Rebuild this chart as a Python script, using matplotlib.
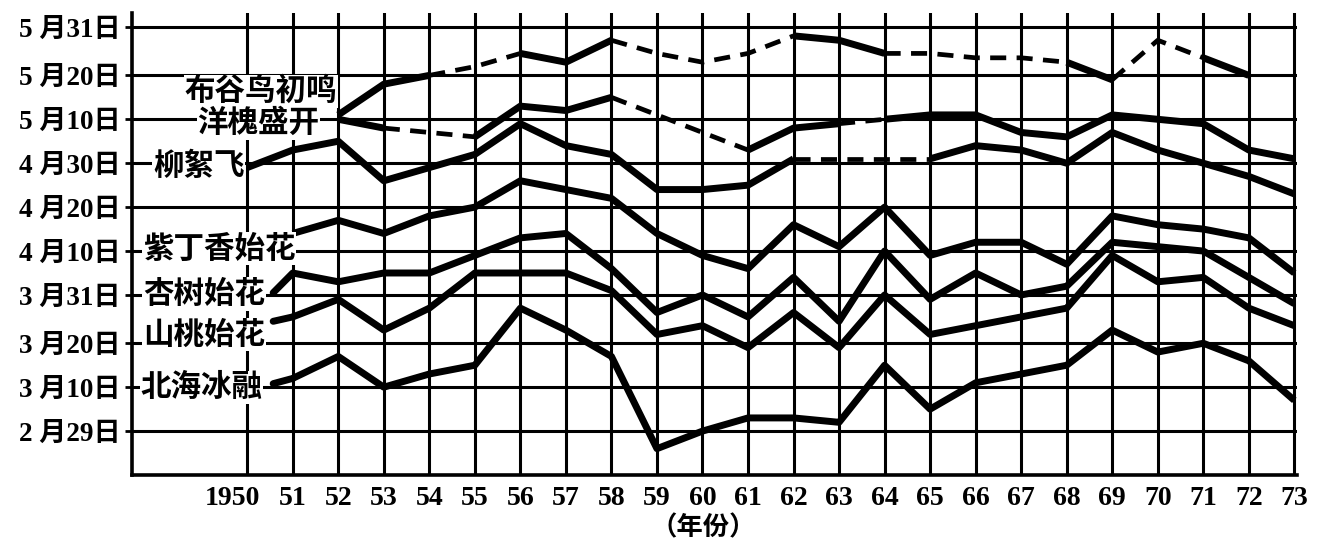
import matplotlib
matplotlib.use("Agg")
import matplotlib.pyplot as plt
from matplotlib.transforms import ScaledTranslation
import numpy as np

# ---------------- data (day number counted from 1 March; 2月29日 = 0) ----------------
cuckoo_years = list(range(1952, 1973))
cuckoo = [72, 79, 81, 83, 86, 84, 89, 86, 84, 86, 90, 89, 86, 86, 85, 85, 84, 80, 89, 85, 81]
cuckoo_dashed = [1954, 1955, 1958, 1959, 1960, 1961, 1964, 1965, 1966, 1967, 1969, 1970]

locust_years = list(range(1952, 1974))
locust = [71, 69, 68, 67, 74, 73, 76, 72, 68, 64, 69, 70, 71, 72, 72, 68, 67, 72, 71, 70, 64, 62]
locust_dashed = [1953, 1954, 1958, 1959, 1960, 1963]

willow_years = list(range(1950, 1974))
willow = [60, 64, 66, 57, 60, 63, 70, 65, 63, 55, 55, 56, 62, 62, 62, 62, 65, 64, 61, 68, 64, 61, 58, 54]
willow_dashed = [1962, 1963, 1964]

lilac_years = list(range(1951, 1974))
lilac = [45, 48, 45, 49, 51, 57, 55, 53, 45, 40, 37, 47, 42, 51, 40, 43, 43, 38, 49, 47, 46, 44, 36]

apricot_years = list(range(1951, 1974))
apricot = [36, 34, 36, 36, 40, 44, 45, 37, 27, 31, 26, 35, 25, 41, 30, 36, 31, 33, 43, 42, 41, 35, 29]

peach_years = list(range(1951, 1974))
peach = [26, 30, 23, 28, 36, 36, 36, 32, 22, 24, 19, 27, 19, 31, 22, 24, 26, 28, 40, 34, 35, 28, 24]

ice_years = list(range(1951, 1974))
ice = [12, 17, 10, 13, 15, 28, 23, 17, -4, 0, 3, 3, 2, 15, 5, 11, 13, 15, 23, 18, 20, 16, 7]

series_names = ["布谷鸟初鸣", "洋槐盛开", "柳絮飞", "紫丁香始花", "杏树始花", "山桃始花", "北海冰融"]

ytick_days = [0, 10, 20, 31, 41, 51, 61, 71, 81, 92]
ytick_labels = ["2 月29日", "3 月10日", "3 月20日", "3 月31日", "4 月10日",
                "4 月20日", "4 月30日", "5 月10日", "5 月20日", "5 月31日"]
xtick_years = list(range(1950, 1974))
xtick_labels = ["1950"] + [str(y % 100) for y in range(1951, 1974)]
xlabel_text = "（年份）"

# ---------------- figure ----------------
CJK = ["Noto Sans CJK SC", "DejaVu Sans"]
MIX = ["Liberation Serif", "Noto Sans CJK SC", "DejaVu Sans"]

fig = plt.figure(figsize=(13.23, 5.47), dpi=100)
ax = fig.add_axes([0.0998, 0.1316, 0.8806, 0.8446])
ax.set_xlim(1947.47, 1973.06)
ax.set_ylim(-10, 95.2)

for s in ["top", "right"]:
    ax.spines[s].set_visible(False)
for s in ["left", "bottom"]:
    ax.spines[s].set_linewidth(2.6)

ax.set_xticks(xtick_years)
ax.set_xticklabels(xtick_labels, fontfamily=MIX, fontsize=20, fontweight="bold")
ax.set_yticks(ytick_days)
ax.set_yticklabels(ytick_labels, fontfamily=MIX, fontsize=19.5, fontweight="bold")
ax.tick_params(axis="x", length=0, pad=8)
ax.tick_params(axis="y", length=5, width=2, pad=3, direction="out")
ax.grid(True, color="black", linewidth=2.2, zorder=1)
ax.set_axisbelow(True)

lab0 = ax.get_xticklabels()[0]
lab0.set_horizontalalignment("right")
lab0.set_transform(lab0.get_transform() + ScaledTranslation(13 / 100, 0, fig.dpi_scale_trans))


def draw(years, vals, dashed=()):
    years = np.asarray(years)
    vals = np.asarray(vals)
    n = len(years)
    seg = [int(years[i]) in dashed for i in range(n - 1)]
    i = 0
    while i < n - 1:
        j = i
        while j < n - 1 and seg[j] == seg[i]:
            j += 1
        xs, ys = years[i:j + 1], vals[i:j + 1]
        if seg[i]:
            ax.plot(xs, ys, color="black", lw=3.4, dashes=(3.4, 2.2),
                    dash_capstyle="butt", zorder=3)
        else:
            ax.plot(xs, ys, color="black", lw=5.0, solid_joinstyle="round",
                    solid_capstyle="butt", zorder=4)
        i = j


draw(cuckoo_years, cuckoo, cuckoo_dashed)
draw(locust_years, locust, locust_dashed)
draw(willow_years, willow, willow_dashed)
draw(lilac_years, lilac)
draw(apricot_years, apricot)
draw(peach_years, peach)
draw(ice_years, ice)

# series labels (layout positions)
label_pos = [(1948.63, 77.4), (1948.90, 70.1), (1947.93, 60.3), (1947.71, 41.5),
             (1947.71, 31.2), (1947.71, 22.0), (1947.65, 10.0)]
for name, (lx, ly) in zip(series_names, label_pos):
    ax.text(lx, ly, name, fontfamily=CJK, fontsize=22, fontweight="bold",
            ha="left", va="center", zorder=6,
            bbox=dict(facecolor="white", edgecolor="none", pad=0.5))

# short leaders from labels to the first points of the lower series
LEAD_X = 1950.57
for (yrs, vals, ly) in [(apricot_years, apricot, 31.5), (peach_years, peach, 25.0),
                        (ice_years, ice, 10.8)]:
    ax.annotate("", xy=(yrs[0], vals[0]), xytext=(LEAD_X, ly),
                arrowprops=dict(arrowstyle="-", lw=5.0, color="black",
                                shrinkA=0, shrinkB=0), zorder=4)

fig.text(703 / 1323, 1 - 528 / 547, xlabel_text, fontfamily=CJK, fontsize=19,
         fontweight="bold", ha="center", va="center")

fig.savefig("out.png", dpi=100)
